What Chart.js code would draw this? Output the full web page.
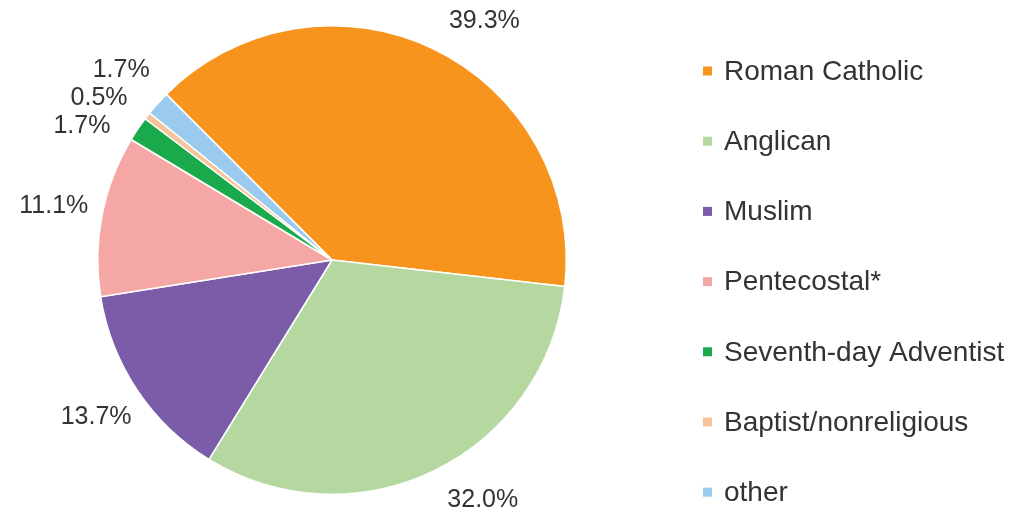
<!DOCTYPE html>
<html>
<head>
<meta charset="utf-8">
<script src="https://cdn.jsdelivr.net/npm/chart.js@4"></script>
<style>
  html,body{margin:0;padding:0;background:#fff;}
  #wrap{width:1018px;height:517px;position:relative;}
</style>
</head>
<body>
<div id="wrap"><canvas id="c" width="1018" height="517"></canvas></div>
<script>
const categories = ["Roman Catholic","Anglican","Muslim","Pentecostal*","Seventh-day Adventist","Baptist/nonreligious","other"];
const shares = [39.3, 32.0, 13.7, 11.1, 1.7, 0.5, 1.7];
const colors = ["#F7941D","#B4D8A0","#7A5CA8","#F4A7A4","#1BAA4B","#F6C49A","#9ACBEE"];

const textColor = '#333333';
const fontFamily = '"Liberation Sans", Arial, Helvetica, sans-serif';

const outLabels = {
  id: 'outLabels',
  afterDatasetsDraw(chart) {
    const ctx = chart.ctx;
    const meta = chart.getDatasetMeta(0);
    const vals = chart.data.datasets[0].data;
    ctx.save();
    ctx.font = '25px ' + fontFamily;
    ctx.fillStyle = textColor;
    ctx.textAlign = 'center';
    ctx.textBaseline = 'middle';
    const items = meta.data.map((arc, i) => {
      const p = arc.getProps(['x','y','startAngle','endAngle','outerRadius'], true);
      const mid = (p.startAngle + p.endAngle) / 2;
      const R = p.outerRadius * 1.21;
      return {cx: p.x, cy: p.y, R, y: p.y + Math.sin(mid) * R,
              side: Math.cos(mid) >= 0 ? 1 : -1, text: vals[i].toFixed(1) + '%'};
    });
    const top = 21, bottom = chart.height - 17, gap = 28;
    items.forEach(it => { it.y = Math.min(Math.max(it.y, top), bottom); });
    [-1, 1].forEach(s => {
      const arr = items.filter(it => it.side === s).sort((a, b) => a.y - b.y);
      for (let k = 1; k < arr.length; k++) {
        if (arr[k].y < arr[k-1].y + gap) arr[k].y = arr[k-1].y + gap;
      }
    });
    items.forEach(it => {
      const dy = it.y - it.cy;
      const dx = Math.sqrt(Math.max(it.R * it.R - dy * dy, 0));
      ctx.fillText(it.text, it.cx + it.side * dx, it.y);
    });
    ctx.restore();
  },
  afterDraw(chart) {
    const ctx = chart.ctx;
    const labels = chart.data.labels;
    const bg = chart.data.datasets[0].backgroundColor;
    ctx.save();
    ctx.font = '28px ' + fontFamily;
    ctx.textAlign = 'left';
    ctx.textBaseline = 'middle';
    const x0 = 703, y0 = 71, step = 70.2, box = 9;
    labels.forEach((lab, i) => {
      const y = y0 + i * step;
      ctx.fillStyle = bg[i];
      ctx.fillRect(x0, y - box / 2, box, box);
      ctx.fillStyle = textColor;
      ctx.fillText(lab, x0 + 21, y + 1);
    });
    ctx.restore();
  }
};

new Chart(document.getElementById('c'), {
  type: 'pie',
  data: {
    labels: categories,
    datasets: [{
      data: shares,
      backgroundColor: colors,
      borderColor: '#ffffff',
      borderWidth: 1.5
    }]
  },
  options: {
    responsive: false,
    animation: false,
    rotation: -45,
    layout: {padding: {left: 97, right: 451, top: 25, bottom: 22}},
    plugins: {legend: {display: false}, tooltip: {enabled: false}}
  },
  plugins: [outLabels]
});
</script>
</body>
</html>
